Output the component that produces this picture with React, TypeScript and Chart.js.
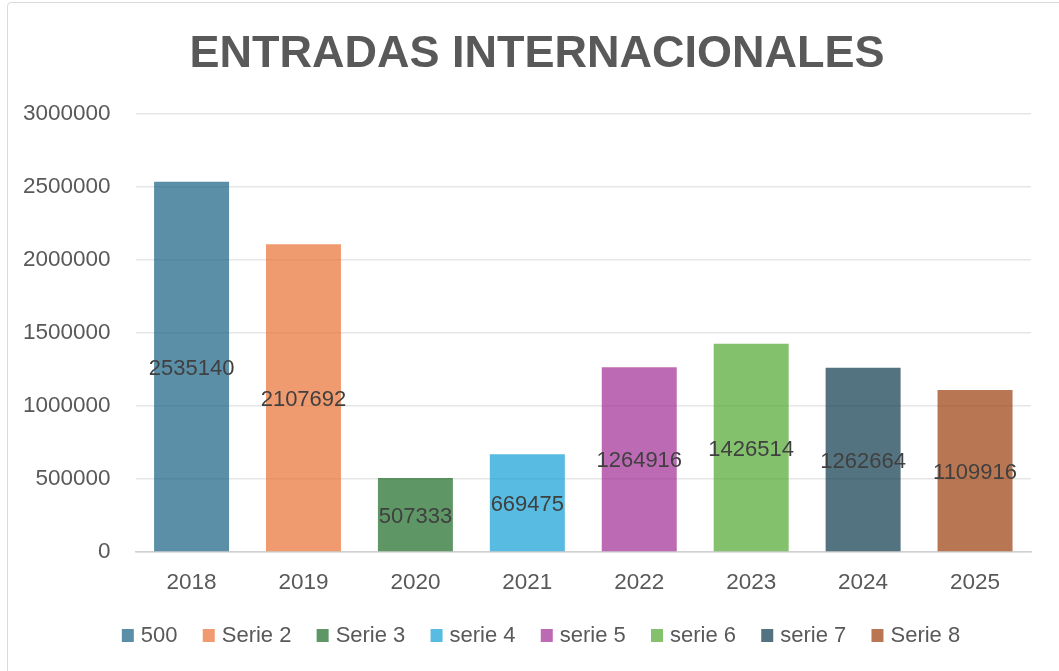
import React, { useEffect, useRef } from "react";
import { Chart, registerables } from "chart.js";

Chart.register(...registerables);

const titleText = "ENTRADAS INTERNACIONALES";
const categories = ["2018", "2019", "2020", "2021", "2022", "2023", "2024", "2025"];
const seriesNames = ["500", "Serie 2", "Serie 3", "serie 4", "serie 5", "serie 6", "serie 7", "Serie 8"];
const values = [2535140, 2107692, 507333, 669475, 1264916, 1426514, 1262664, 1109916];
const colors = [
  "rgba(21,96,130,0.7)",
  "rgba(233,113,50,0.7)",
  "rgba(25,107,36,0.7)",
  "rgba(15,158,213,0.7)",
  "rgba(160,43,147,0.7)",
  "rgba(78,167,46,0.7)",
  "rgba(11,55,74,0.7)",
  "rgba(154,61,9,0.7)",
];
const yTicks = [0, 500000, 1000000, 1500000, 2000000, 2500000, 3000000];

const FONT = "'Liberation Sans', Arial, sans-serif";

const dataLabelPlugin = {
  id: "centerLabels",
  afterDatasetsDraw(chart: any) {
    const ctx = chart.ctx;
    ctx.save();
    ctx.font = `22px ${FONT}`;
    ctx.fillStyle = "#404040";
    ctx.textAlign = "center";
    ctx.textBaseline = "middle";
    chart.data.datasets.forEach((ds: any, i: number) => {
      const meta = chart.getDatasetMeta(i);
      meta.data.forEach((el: any, j: number) => {
        const v = ds.data[j];
        if (v === null || v === undefined) return;
        const yMid = (el.y + el.base) / 2 + 2;
        ctx.fillText(String(v), el.x, yMid);
      });
    });
    ctx.restore();
  },
};

// Excel-style title and legend (centred on the Excel chart frame)
const frameCenterX = 537;
const titleLegendPlugin = {
  id: "excelTitleLegend",
  afterDraw(chart: any) {
    const ctx = chart.ctx;
    ctx.save();
    // title
    ctx.font = `bold 45px ${FONT}`;
    ctx.fillStyle = "#595959";
    ctx.textAlign = "center";
    ctx.textBaseline = "alphabetic";
    ctx.fillText(titleText, frameCenterX, 67);
    // legend
    ctx.font = `22px ${FONT}`;
    const box = 12;
    const boxH = 13;
    const gap = 7;
    const itemGap = 25.2;
    const widths = seriesNames.map((n) => ctx.measureText(n).width);
    const total = widths.reduce((a, b) => a + b, 0) + seriesNames.length * (box + gap) + (seriesNames.length - 1) * itemGap;
    let x = 541 - total / 2;
    const baseline = 642;
    ctx.textAlign = "left";
    seriesNames.forEach((n, i) => {
      ctx.fillStyle = colors[i];
      ctx.fillRect(x, baseline - boxH, box, boxH);
      ctx.fillStyle = "#595959";
      ctx.fillText(n, x + box + gap, baseline);
      x += box + gap + widths[i] + itemGap;
    });
    ctx.restore();
  },
};

export default function App() {
  const ref = useRef<HTMLCanvasElement | null>(null);
  useEffect(() => {
    if (!ref.current) return;
    const datasets = seriesNames.map((name, i) => ({
      label: name,
      data: categories.map((_, j) => (j === i ? values[i] : null)),
      backgroundColor: colors[i],
      borderWidth: 0,
      grouped: false,
      categoryPercentage: 1,
      barPercentage: 0.67,
    }));
    const chart = new Chart(ref.current, {
      type: "bar",
      data: { labels: categories, datasets: datasets as any },
      plugins: [dataLabelPlugin, titleLegendPlugin],
      options: {
        animation: false,
        responsive: false,
        maintainAspectRatio: false,
        layout: { padding: { left: -2, right: 28, top: 114, bottom: 58 } },
        plugins: {
          title: { display: false },
          legend: { display: false },
          tooltip: { enabled: false },
        },
        scales: {
          x: {
            grid: { display: false, drawTicks: false },
            border: { color: "#d0d0d0", width: 1.5 },
            ticks: { color: "#595959", font: { family: FONT, size: 22.5 }, padding: 17 },
          },
          y: {
            min: 0,
            max: 3000000,
            afterBuildTicks: (axis: any) => {
              axis.ticks = yTicks.map((v) => ({ value: v }));
            },
            grid: { color: "#e6e6e6", lineWidth: 1.5, drawTicks: false },
            border: { display: false },
            ticks: {
              color: "#595959",
              font: { family: FONT, size: 22.5 },
              padding: 25,
              callback: (v: any) => String(v),
            },
          },
        },
      },
    });
    return () => chart.destroy();
  }, []);
  return (
    <div style={{ position: "fixed", left: 0, top: 0, width: 1059, height: 671, background: "#fff", overflow: "hidden" }}>
      <div
        style={{
          position: "absolute",
          left: 7,
          top: 2,
          width: 1080,
          height: 700,
          border: "1px solid #d9d9d9",
          borderRadius: 4,
          boxSizing: "border-box",
        }}
      />
      <canvas ref={ref} width={1059} height={671} style={{ position: "absolute", left: 0, top: 0, width: 1059, height: 671 }} />
    </div>
  );
}
